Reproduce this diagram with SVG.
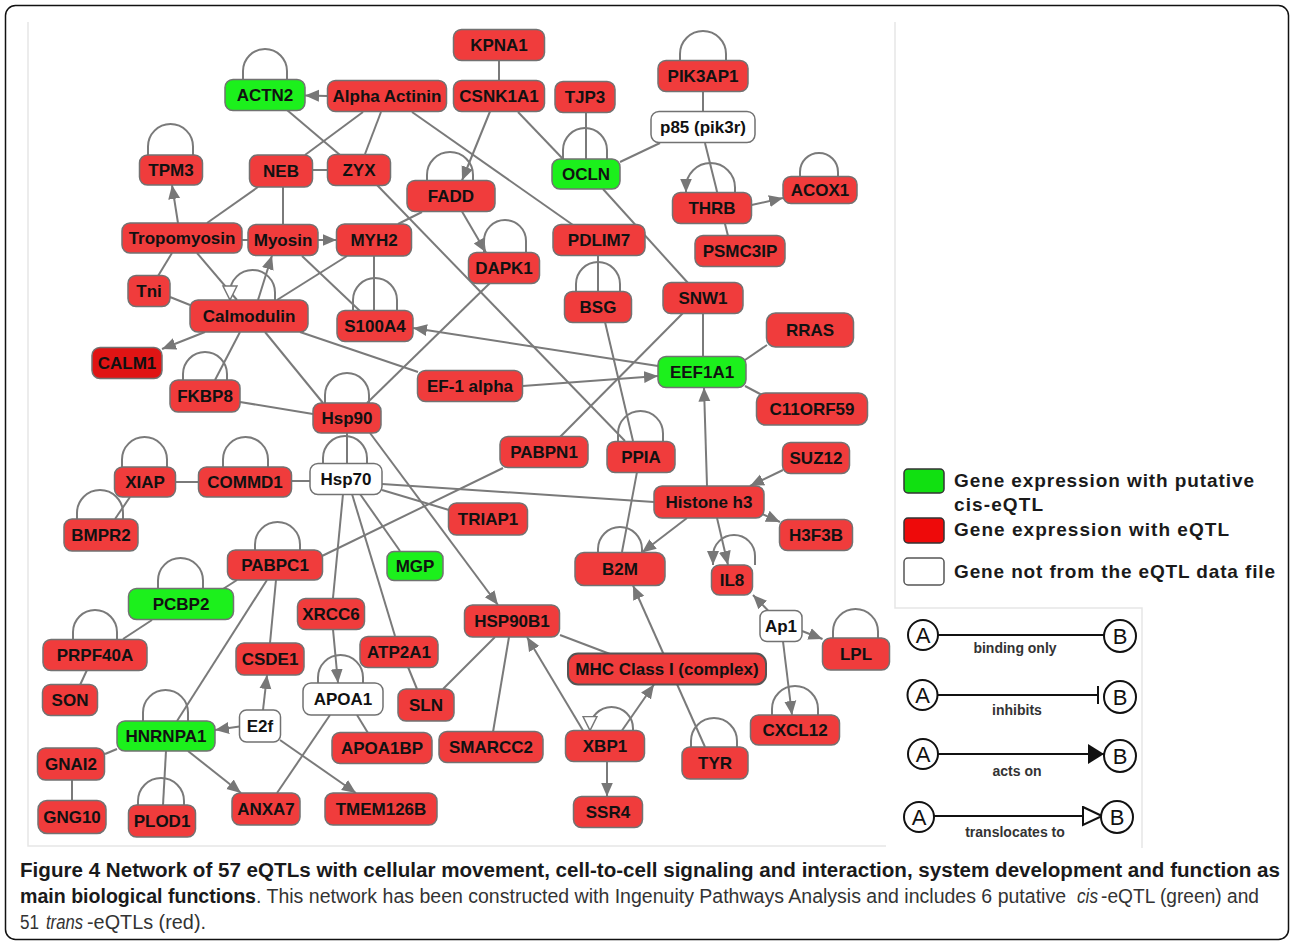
<svg xmlns="http://www.w3.org/2000/svg" width="1292" height="943" viewBox="0 0 1292 943">
<style>
.n rect{stroke:#727272;stroke-width:1.5}
.r rect{fill:#f03c3c}
.g rect{fill:#1cf01c}
.w rect{fill:#ffffff}
.dk rect{fill:#e01414}
.n text{font-family:"Liberation Sans",Arial,sans-serif;font-weight:bold;font-size:17px;text-anchor:middle;fill:#111}
#edges line,#edges path{stroke:#7a7a7a;stroke-width:2;fill:none}
.pl{stroke:#e6e6e6;stroke-width:1.5;fill:none}
.lg{font-family:"Liberation Sans",Arial,sans-serif;font-weight:bold;font-size:19px;fill:#1a1a1a}
.el{font-family:"Liberation Sans",Arial,sans-serif;font-weight:bold;font-size:14px;fill:#333;text-anchor:middle}
.ab{font-family:"Liberation Sans",Arial,sans-serif;font-size:22px;fill:#111;text-anchor:middle}
.cb{font-family:"Liberation Sans",Arial,sans-serif;font-weight:bold;font-size:20px;fill:#1a1a1a}
.cr{font-family:"Liberation Sans",Arial,sans-serif;font-size:20px;fill:#333}
.ci{font-style:italic}
</style>
<defs>
<marker id="ar" markerUnits="userSpaceOnUse" markerWidth="16" markerHeight="14" refX="14" refY="7" orient="auto"><path d="M0,1 L14,7 L0,13 z" fill="#777"/></marker>
<marker id="tr" markerUnits="userSpaceOnUse" markerWidth="18" markerHeight="18" refX="15" refY="8" orient="auto"><path d="M1,1 L15,8 L1,15 z" fill="#fff" stroke="#777" stroke-width="1.5"/></marker>
<marker id="la" markerUnits="userSpaceOnUse" markerWidth="18" markerHeight="22" refX="16" refY="10" orient="auto"><path d="M0,0 L16,10 L0,20 z" fill="#111"/></marker>
<marker id="lt" markerUnits="userSpaceOnUse" markerWidth="22" markerHeight="22" refX="20" refY="10" orient="auto"><path d="M1,1 L20,10 L1,19 z" fill="#fff" stroke="#111" stroke-width="2"/></marker>
</defs>
<rect x="0" y="0" width="1292" height="943" fill="#fff"/>
<rect x="5.5" y="5.5" width="1283" height="934" rx="10" fill="none" stroke="#111" stroke-width="1.5"/>
<g id="panels">
<path class="pl" d="M28,22 V846 H886"/>
<path class="pl" d="M895,22 V608 H1142 V848"/>
</g>
<g id="edges">
<line x1="327.5" y1="96" x2="305" y2="95.5" marker-end="url(#ar)"/>
<line x1="287" y1="110" x2="340" y2="155"/>
<line x1="363" y1="112" x2="305" y2="155"/>
<line x1="381" y1="112" x2="365" y2="154"/>
<line x1="412" y1="112" x2="573" y2="225"/>
<line x1="313" y1="170" x2="328" y2="170"/>
<line x1="499" y1="60" x2="499" y2="81"/>
<line x1="490" y1="111.5" x2="462" y2="180.5" marker-end="url(#ar)"/>
<line x1="518" y1="112" x2="563" y2="159"/>
<line x1="586" y1="112" x2="586" y2="159"/>
<line x1="703" y1="91" x2="703" y2="112"/>
<line x1="660" y1="143" x2="620" y2="162"/>
<line x1="705" y1="143" x2="728" y2="236"/>
<line x1="751.5" y1="205" x2="783" y2="198" marker-end="url(#ar)"/>
<line x1="603" y1="189" x2="688" y2="283"/>
<line x1="178" y1="223" x2="172" y2="185" marker-end="url(#ar)"/>
<line x1="207" y1="223" x2="258" y2="187"/>
<line x1="242" y1="240" x2="248" y2="240"/>
<line x1="283" y1="187" x2="283" y2="225"/>
<line x1="318" y1="240" x2="336.5" y2="240" marker-end="url(#ar)"/>
<line x1="422" y1="212" x2="398" y2="224"/>
<line x1="462" y1="211.5" x2="486" y2="252.5" marker-end="url(#ar)"/>
<line x1="172" y1="253" x2="158" y2="276"/>
<line x1="197" y1="253" x2="237" y2="300"/>
<line x1="258" y1="300" x2="272" y2="255.5" marker-end="url(#ar)"/>
<line x1="277" y1="300" x2="347" y2="256"/>
<line x1="302" y1="256" x2="360" y2="311"/>
<line x1="374" y1="256" x2="374" y2="311"/>
<line x1="170" y1="297" x2="190" y2="305"/>
<line x1="205" y1="332" x2="162" y2="349" marker-end="url(#ar)"/>
<line x1="240" y1="332" x2="215" y2="380"/>
<line x1="265" y1="332" x2="323" y2="403"/>
<line x1="300" y1="332" x2="418" y2="372"/>
<line x1="240" y1="402" x2="313" y2="414"/>
<line x1="367" y1="403" x2="490" y2="283"/>
<line x1="377" y1="185" x2="625" y2="441"/>
<line x1="598" y1="256" x2="598" y2="291"/>
<line x1="605" y1="322" x2="633" y2="441"/>
<line x1="703" y1="313" x2="703" y2="357"/>
<line x1="560" y1="437" x2="683" y2="313"/>
<line x1="658" y1="366" x2="413" y2="328" marker-end="url(#ar)"/>
<line x1="522.5" y1="386" x2="658" y2="376" marker-end="url(#ar)"/>
<line x1="745" y1="360" x2="767" y2="345"/>
<line x1="745" y1="386" x2="762" y2="395"/>
<line x1="707" y1="486" x2="704" y2="387.5" marker-end="url(#ar)"/>
<line x1="783" y1="470" x2="750" y2="486" marker-end="url(#ar)"/>
<line x1="762" y1="514" x2="780" y2="522" marker-end="url(#ar)"/>
<line x1="687" y1="518" x2="642" y2="552.5" marker-end="url(#ar)"/>
<line x1="717" y1="518" x2="728" y2="565" marker-end="url(#ar)"/>
<line x1="382" y1="484" x2="654" y2="502"/>
<line x1="347" y1="433" x2="347" y2="464"/>
<line x1="370" y1="433" x2="498" y2="605" marker-end="url(#ar)"/>
<line x1="292" y1="481" x2="310" y2="481"/>
<line x1="175" y1="482" x2="199" y2="482"/>
<line x1="130" y1="497" x2="115" y2="519"/>
<line x1="382" y1="490" x2="449" y2="510"/>
<line x1="503" y1="468" x2="322" y2="556"/>
<line x1="343" y1="494" x2="333" y2="598"/>
<line x1="352" y1="494" x2="395" y2="636"/>
<line x1="360" y1="494" x2="400" y2="551"/>
<line x1="637" y1="472" x2="622" y2="552"/>
<line x1="705" y1="747" x2="633" y2="585.5" marker-end="url(#ar)"/>
<line x1="223" y1="589" x2="237" y2="580"/>
<line x1="123" y1="639" x2="152" y2="620"/>
<line x1="87" y1="670" x2="80" y2="685"/>
<line x1="276" y1="580" x2="270" y2="643"/>
<line x1="267" y1="580" x2="177" y2="721"/>
<line x1="239.5" y1="726.5" x2="215" y2="730" marker-end="url(#ar)"/>
<line x1="263" y1="710" x2="267" y2="675" marker-end="url(#ar)"/>
<line x1="117" y1="749" x2="105" y2="754"/>
<line x1="72" y1="780" x2="72" y2="801"/>
<line x1="166" y1="751" x2="163" y2="805"/>
<line x1="188" y1="751" x2="241" y2="793" marker-end="url(#ar)"/>
<line x1="277" y1="793" x2="330" y2="715"/>
<line x1="280" y1="740" x2="356" y2="793" marker-end="url(#ar)"/>
<line x1="333" y1="629.5" x2="338" y2="683" marker-end="url(#ar)"/>
<line x1="357" y1="715" x2="368" y2="733"/>
<line x1="408" y1="667" x2="417" y2="689"/>
<line x1="443" y1="689" x2="495" y2="637"/>
<line x1="509" y1="637" x2="493" y2="732"/>
<line x1="560" y1="635" x2="610" y2="654"/>
<line x1="583" y1="730.5" x2="527" y2="637" marker-end="url(#ar)"/>
<line x1="622" y1="730.5" x2="654" y2="684.5" marker-end="url(#ar)"/>
<line x1="607" y1="761.5" x2="607" y2="796.5" marker-end="url(#ar)"/>
<line x1="768" y1="610.5" x2="753" y2="595" marker-end="url(#ar)"/>
<line x1="802" y1="631" x2="822.5" y2="639" marker-end="url(#ar)"/>
<line x1="783" y1="641.5" x2="792" y2="715" marker-end="url(#ar)"/>
<path d="M243,80 V71 A22,22 0 0 1 287,71 V80"/>
<path d="M148,155 V146.5 A22.5,22.5 0 0 1 193,146.5 V155"/>
<path d="M427,181 V175 A23,23 0 0 1 473,175 V181"/>
<path d="M484,253 V241 A21,21 0 0 1 526,241 V253"/>
<path d="M563,159 V150 A22,22 0 0 1 607,150 V159"/>
<path d="M680,61 V54 A23,23 0 0 1 726,54 V61"/>
<path d="M735,192.5 V187.5 A24.5,24.5 0 0 0 686,187.5 V192.5" marker-end="url(#ar)"/>
<path d="M800,177 V172 A19,19 0 0 1 838,172 V177"/>
<path d="M353,311 V300 A22,22 0 0 1 397,300 V311"/>
<path d="M576,291.5 V284 A22,22 0 0 1 620,284 V291.5"/>
<path d="M275,300 V292.5 A22.5,22.5 0 0 0 230,292.5 V300" marker-end="url(#tr)"/>
<path d="M183,380 V374 A22,22 0 0 1 227,374 V380"/>
<path d="M325,403 V395 A22,22 0 0 1 369,395 V403"/>
<path d="M323,464 V458 A22,22 0 0 1 367,458 V464"/>
<path d="M122,467 V459.5 A22.5,22.5 0 0 1 167,459.5 V467"/>
<path d="M223,467 V459.5 A22.5,22.5 0 0 1 268,459.5 V467"/>
<path d="M77,519 V513 A23,23 0 0 1 123,513 V519"/>
<path d="M255,550 V544.5 A22.5,22.5 0 0 1 300,544.5 V550"/>
<path d="M618,441.5 V433.5 A22.5,22.5 0 0 1 663,433.5 V441.5"/>
<path d="M598,552.5 V549 A22,22 0 0 1 642,549 V552.5"/>
<path d="M755,565 V556 A21,21 0 0 0 713,556 V565" marker-end="url(#ar)"/>
<path d="M158,589 V580.5 A22.5,22.5 0 0 1 203,580.5 V589"/>
<path d="M73,640 V632 A22,22 0 0 1 117,632 V640"/>
<path d="M318,683 V677.5 A22.5,22.5 0 0 1 363,677.5 V683"/>
<path d="M143,721 V712.5 A22.5,22.5 0 0 1 188,712.5 V721"/>
<path d="M138,805 V801 A23,23 0 0 1 184,801 V805"/>
<path d="M833,638 V631.5 A22.5,22.5 0 0 1 878,631.5 V638"/>
<path d="M772,715 V709 A23,23 0 0 1 818,709 V715"/>
<path d="M633,730.5 V728.5 A21.5,21.5 0 0 0 590,728.5 V730.5" marker-end="url(#tr)"/>
<path d="M691,747 V741 A23,23 0 0 1 737,741 V747"/>
</g>
<g id="nodes">
<g id="n-ACTN2" class="n g"><rect x="225" y="79.5" width="80" height="31" rx="8"/><text x="265" y="101">ACTN2</text></g>
<g id="n-AlphaActinin" class="n r"><rect x="327.5" y="80.5" width="119" height="31" rx="8"/><text x="387" y="102">Alpha Actinin</text></g>
<g id="n-KPNA1" class="n r"><rect x="453.5" y="29.5" width="91" height="31" rx="8"/><text x="499" y="51">KPNA1</text></g>
<g id="n-CSNK1A1" class="n r"><rect x="453.5" y="80.5" width="91" height="31" rx="8"/><text x="499" y="102">CSNK1A1</text></g>
<g id="n-TJP3" class="n r"><rect x="555" y="81.5" width="60" height="31" rx="8"/><text x="585" y="103">TJP3</text></g>
<g id="n-PIK3AP1" class="n r"><rect x="658" y="60.5" width="90" height="31" rx="8"/><text x="703" y="82">PIK3AP1</text></g>
<g id="n-p85" class="n w"><rect x="651" y="111.5" width="104" height="31" rx="8"/><text x="703" y="133">p85 (pik3r)</text></g>
<g id="n-TPM3" class="n r"><rect x="139.5" y="155" width="63" height="30" rx="8"/><text x="171" y="176">TPM3</text></g>
<g id="n-NEB" class="n r"><rect x="249.5" y="155" width="63" height="32" rx="8"/><text x="281" y="177">NEB</text></g>
<g id="n-ZYX" class="n r"><rect x="327.5" y="154.5" width="63" height="31" rx="8"/><text x="359" y="176">ZYX</text></g>
<g id="n-FADD" class="n r"><rect x="407" y="180.5" width="88" height="31" rx="8"/><text x="451" y="202">FADD</text></g>
<g id="n-OCLN" class="n g"><rect x="552" y="159" width="68" height="30" rx="8"/><text x="586" y="180">OCLN</text></g>
<g id="n-THRB" class="n r"><rect x="672.5" y="192.5" width="79" height="31" rx="8"/><text x="712" y="214">THRB</text></g>
<g id="n-ACOX1" class="n r"><rect x="783" y="176.5" width="74" height="27" rx="8"/><text x="820" y="196">ACOX1</text></g>
<g id="n-PSMC3IP" class="n r"><rect x="695" y="235.5" width="90" height="31" rx="8"/><text x="740" y="257">PSMC3IP</text></g>
<g id="n-Tropomyosin" class="n r"><rect x="122" y="223" width="120" height="30" rx="8"/><text x="182" y="244">Tropomyosin</text></g>
<g id="n-Myosin" class="n r"><rect x="248" y="224.5" width="70" height="31" rx="8"/><text x="283" y="246">Myosin</text></g>
<g id="n-MYH2" class="n r"><rect x="336.5" y="224" width="75" height="32" rx="8"/><text x="374" y="246">MYH2</text></g>
<g id="n-PDLIM7" class="n r"><rect x="553" y="224.5" width="92" height="31" rx="8"/><text x="599" y="246">PDLIM7</text></g>
<g id="n-DAPK1" class="n r"><rect x="468.5" y="252.5" width="71" height="31" rx="8"/><text x="504" y="274">DAPK1</text></g>
<g id="n-Tni" class="n r"><rect x="128" y="275.5" width="42" height="31" rx="8"/><text x="149" y="297">Tni</text></g>
<g id="n-Calmodulin" class="n r"><rect x="190" y="300" width="118" height="32" rx="8"/><text x="249" y="322">Calmodulin</text></g>
<g id="n-S100A4" class="n r"><rect x="337" y="310.5" width="76" height="31" rx="8"/><text x="375" y="332">S100A4</text></g>
<g id="n-BSG" class="n r"><rect x="564.5" y="291.5" width="67" height="31" rx="8"/><text x="598" y="313">BSG</text></g>
<g id="n-SNW1" class="n r"><rect x="663" y="282.5" width="80" height="31" rx="8"/><text x="703" y="304">SNW1</text></g>
<g id="n-RRAS" class="n r"><rect x="766.5" y="313" width="87" height="34" rx="9"/><text x="810" y="336">RRAS</text></g>
<g id="n-CALM1" class="n dk"><rect x="92" y="347.5" width="70" height="31" rx="8"/><text x="127" y="369">CALM1</text></g>
<g id="n-FKBP8" class="n r"><rect x="170" y="380" width="70" height="32" rx="8"/><text x="205" y="402">FKBP8</text></g>
<g id="n-EF1alpha" class="n r"><rect x="417.5" y="370.5" width="105" height="31" rx="8"/><text x="470" y="392">EF-1 alpha</text></g>
<g id="n-EEF1A1" class="n g"><rect x="658" y="356.5" width="88" height="31" rx="8"/><text x="702" y="378">EEF1A1</text></g>
<g id="n-C11ORF59" class="n r"><rect x="756.5" y="393" width="111" height="32" rx="9"/><text x="812" y="415">C11ORF59</text></g>
<g id="n-Hsp90" class="n r"><rect x="313" y="403" width="68" height="30" rx="8"/><text x="347" y="424">Hsp90</text></g>
<g id="n-PABPN1" class="n r"><rect x="500" y="436.5" width="88" height="31" rx="8"/><text x="544" y="458">PABPN1</text></g>
<g id="n-PPIA" class="n r"><rect x="607" y="441.5" width="68" height="31" rx="8"/><text x="641" y="463">PPIA</text></g>
<g id="n-SUZ12" class="n r"><rect x="782.5" y="442.5" width="67" height="31" rx="8"/><text x="816" y="464">SUZ12</text></g>
<g id="n-XIAP" class="n r"><rect x="114.5" y="467" width="61" height="30" rx="8"/><text x="145" y="488">XIAP</text></g>
<g id="n-COMMD1" class="n r"><rect x="198.5" y="467" width="93" height="30" rx="8"/><text x="245" y="488">COMMD1</text></g>
<g id="n-Hsp70" class="n w"><rect x="310" y="463.5" width="72" height="31" rx="8"/><text x="346" y="485">Hsp70</text></g>
<g id="n-Histoneh3" class="n r"><rect x="654" y="486" width="110" height="32" rx="8"/><text x="709" y="508">Histone h3</text></g>
<g id="n-TRIAP1" class="n r"><rect x="448.5" y="503" width="79" height="32" rx="8"/><text x="488" y="525">TRIAP1</text></g>
<g id="n-H3F3B" class="n r"><rect x="779.5" y="519.5" width="73" height="31" rx="8"/><text x="816" y="541">H3F3B</text></g>
<g id="n-BMPR2" class="n r"><rect x="64" y="519" width="74" height="32" rx="8"/><text x="101" y="541">BMPR2</text></g>
<g id="n-PABPC1" class="n r"><rect x="227.5" y="550" width="95" height="30" rx="8"/><text x="275" y="571">PABPC1</text></g>
<g id="n-MGP" class="n g"><rect x="387" y="551.5" width="56" height="29" rx="7"/><text x="415" y="572">MGP</text></g>
<g id="n-B2M" class="n r"><rect x="575" y="552.5" width="90" height="33" rx="9"/><text x="620" y="575">B2M</text></g>
<g id="n-IL8" class="n r"><rect x="711.5" y="565" width="41" height="30" rx="8"/><text x="732" y="586">IL8</text></g>
<g id="n-PCBP2" class="n g"><rect x="128.5" y="588.5" width="105" height="31" rx="8"/><text x="181" y="610">PCBP2</text></g>
<g id="n-XRCC6" class="n r"><rect x="297.5" y="598.5" width="67" height="31" rx="8"/><text x="331" y="620">XRCC6</text></g>
<g id="n-HSP90B1" class="n r"><rect x="464.5" y="605" width="95" height="32" rx="8"/><text x="512" y="627">HSP90B1</text></g>
<g id="n-Ap1" class="n w"><rect x="760" y="610.5" width="42" height="31" rx="7"/><text x="781" y="632">Ap1</text></g>
<g id="n-ATP2A1" class="n r"><rect x="360" y="636.5" width="78" height="31" rx="8"/><text x="399" y="658">ATP2A1</text></g>
<g id="n-PRPF40A" class="n r"><rect x="43" y="639.5" width="104" height="31" rx="8"/><text x="95" y="661">PRPF40A</text></g>
<g id="n-CSDE1" class="n r"><rect x="236" y="643" width="68" height="32" rx="8"/><text x="270" y="665">CSDE1</text></g>
<g id="n-LPL" class="n r"><rect x="822.5" y="638" width="67" height="32" rx="8"/><text x="856" y="660">LPL</text></g>
<g id="n-MHC" class="n r"><rect x="568" y="653.5" width="198" height="31" rx="10" style="stroke:#555;stroke-width:2"/><text x="667" y="675">MHC Class I (complex)</text></g>
<g id="n-APOA1" class="n w"><rect x="303" y="683" width="80" height="32" rx="8"/><text x="343" y="705">APOA1</text></g>
<g id="n-SON" class="n r"><rect x="42.5" y="684.5" width="55" height="31" rx="8"/><text x="70" y="706">SON</text></g>
<g id="n-SLN" class="n r"><rect x="398" y="689" width="56" height="32" rx="8"/><text x="426" y="711">SLN</text></g>
<g id="n-E2f" class="n w"><rect x="239.5" y="710" width="41" height="32" rx="7"/><text x="260" y="732">E2f</text></g>
<g id="n-HNRNPA1" class="n g"><rect x="117" y="721" width="98" height="30" rx="8"/><text x="166" y="742">HNRNPA1</text></g>
<g id="n-CXCL12" class="n r"><rect x="750.5" y="715" width="89" height="30" rx="8"/><text x="795" y="736">CXCL12</text></g>
<g id="n-XBP1" class="n r"><rect x="565.5" y="730.5" width="79" height="31" rx="8"/><text x="605" y="752">XBP1</text></g>
<g id="n-SMARCC2" class="n r"><rect x="439" y="731.5" width="104" height="31" rx="8"/><text x="491" y="753">SMARCC2</text></g>
<g id="n-APOA1BP" class="n r"><rect x="332" y="732.5" width="100" height="31" rx="8"/><text x="382" y="754">APOA1BP</text></g>
<g id="n-TYR" class="n r"><rect x="682" y="747" width="66" height="32" rx="8"/><text x="715" y="769">TYR</text></g>
<g id="n-GNAI2" class="n r"><rect x="37.5" y="748" width="67" height="32" rx="8"/><text x="71" y="770">GNAI2</text></g>
<g id="n-ANXA7" class="n r"><rect x="232" y="793" width="68" height="32" rx="8"/><text x="266" y="815">ANXA7</text></g>
<g id="n-TMEM126B" class="n r"><rect x="325" y="793" width="112" height="32" rx="8"/><text x="381" y="815">TMEM126B</text></g>
<g id="n-SSR4" class="n r"><rect x="573.5" y="796.5" width="69" height="31" rx="8"/><text x="608" y="818">SSR4</text></g>
<g id="n-GNG10" class="n r"><rect x="38" y="800.5" width="68" height="33" rx="9"/><text x="72" y="823">GNG10</text></g>
<g id="n-PLOD1" class="n r"><rect x="128.5" y="805" width="67" height="32" rx="8"/><text x="162" y="827">PLOD1</text></g>
</g>
<g id="legend">
<rect x="904" y="469" width="40" height="24" rx="4" fill="#11e011" stroke="#333" stroke-width="1.5"/>
<rect x="904" y="518" width="40" height="25" rx="4" fill="#ee0a0a" stroke="#333" stroke-width="1.5"/>
<rect x="904" y="558" width="40" height="27" rx="4" fill="#fff" stroke="#555" stroke-width="1.5"/>
<text class="lg" x="954" y="487" textLength="300" lengthAdjust="spacing">Gene expression with putative</text>
<text class="lg" x="954" y="511" textLength="89" lengthAdjust="spacing">cis-eQTL</text>
<text class="lg" x="954" y="536" textLength="275" lengthAdjust="spacing">Gene expression with eQTL</text>
<text class="lg" x="954" y="578" textLength="321" lengthAdjust="spacing">Gene not from the eQTL data file</text>
</g>
<g id="edge-legend" stroke="#111" stroke-width="2" fill="none">
<line x1="938" y1="635" x2="1104" y2="635"/>
<circle cx="923" cy="635" r="15" fill="#fff"/>
<circle cx="1120" cy="636" r="16" fill="#fff"/>
<line x1="938" y1="695" x2="1098" y2="695"/>
<line x1="1098" y1="686" x2="1098" y2="704"/>
<circle cx="922.5" cy="695" r="15" fill="#fff"/>
<circle cx="1120" cy="697" r="16" fill="#fff"/>
<line x1="938" y1="754" x2="1104" y2="754" marker-end="url(#la)"/>
<circle cx="923" cy="754" r="15" fill="#fff"/>
<circle cx="1120" cy="756" r="16" fill="#fff"/>
<line x1="934" y1="816" x2="1102" y2="816" marker-end="url(#lt)"/>
<circle cx="919" cy="817" r="15" fill="#fff"/>
<circle cx="1117" cy="817" r="16" fill="#fff"/>
</g>
<g id="edge-legend-text">
<text class="ab" x="923" y="643">A</text><text class="ab" x="1120" y="644">B</text>
<text class="ab" x="922.5" y="703">A</text><text class="ab" x="1120" y="705">B</text>
<text class="ab" x="923" y="762">A</text><text class="ab" x="1120" y="764">B</text>
<text class="ab" x="919" y="825">A</text><text class="ab" x="1117" y="825">B</text>
<text class="el" x="1015" y="653">binding only</text>
<text class="el" x="1017" y="715">inhibits</text>
<text class="el" x="1017" y="776">acts on</text>
<text class="el" x="1015" y="837">translocates to</text>
</g>
<g id="caption">
<text class="cb" x="20" y="877" textLength="1260" lengthAdjust="spacingAndGlyphs">Figure 4 Network of 57 eQTLs with cellular movement, cell-to-cell signaling and interaction, system development and function as</text>
<text class="cb" x="20" y="903" textLength="236" lengthAdjust="spacingAndGlyphs">main biological functions</text>
<text class="cr" x="256" y="903" textLength="810" lengthAdjust="spacingAndGlyphs">. This network has been constructed with Ingenuity Pathways Analysis and includes 6 putative</text>
<text class="cr ci" x="1077" y="903" textLength="21" lengthAdjust="spacingAndGlyphs">cis</text>
<text class="cr" x="1101" y="903" textLength="158" lengthAdjust="spacingAndGlyphs">-eQTL (green) and</text>
<text class="cr" x="20" y="929" textLength="19" lengthAdjust="spacingAndGlyphs">51</text>
<text class="cr ci" x="46" y="929" textLength="37" lengthAdjust="spacingAndGlyphs">trans</text>
<text class="cr" x="87" y="929" textLength="119" lengthAdjust="spacingAndGlyphs">-eQTLs (red).</text>
</g>
</svg>
